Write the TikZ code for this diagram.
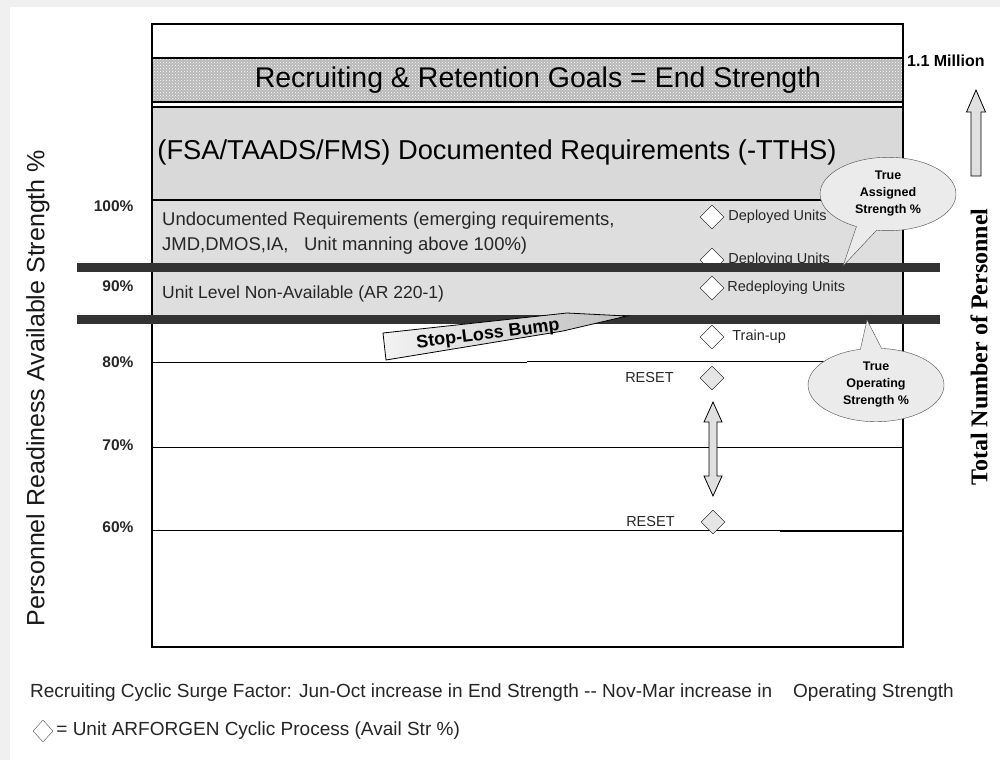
\documentclass[tikz,border=0pt]{standalone}
\usepackage{fontspec}
\setmainfont{Liberation Sans}
\newfontfamily\timesfont{Liberation Serif}
\usetikzlibrary{positioning}
\usetikzlibrary{shapes.geometric}
\usetikzlibrary{shapes.callouts}
\usetikzlibrary{patterns}

\begin{document}
\begin{tikzpicture}[x=1pt, y=-1pt,  node distance=4pt,  bandline/.style={    draw=black,    line width=1.6pt  },  bar/.style={    line width=9pt,    draw=black!80  },  level/.style={    line width=0.9pt  },  pct/.style={    anchor=east,    font=\bfseries\fontsize{15.5}{17}\selectfont,    text=black!85  },  unit/.style={    diamond,    draw,    fill=white,    minimum width=24pt,    minimum height=24pt,    inner sep=0pt  },  unitlabel/.style={    inner sep=0pt,    font=\fontsize{14.5}{16}\selectfont,    text=black!85  },  note/.style={    ellipse callout,    draw=black!70,    fill=black!8,    minimum width=136pt,    minimum height=62pt,    callout pointer arc=18,    align=center,    font=\bfseries\fontsize{12.5}{17}\selectfont  },  fatarrow/.style={    draw,    fill=black!12,    line width=0.8pt  }]
		\useasboundingbox (0,0) rectangle (1000,760);
		\fill[black!6] (0,0) rectangle (1000,760);
		\fill[white] (10,7) rectangle (1000,760);
		% Bands
		\fill[black!28] (152,58) rectangle (903,102);
		\fill[pattern=crosshatch dots, pattern color=white] (152,58) rectangle (903,102);
		\fill[black!15] (152,107) rectangle (903,200);
		\fill[black!13] (152,200) rectangle (903,319);
		\draw[bandline] (152,58) -- (903,58);
		\draw[bandline] (152,102) -- (903,102);
		\draw[bandline] (152,107) -- (903,107);
		\draw[bandline, line width=2.4pt] (152,200) -- (903,200);
		\draw[level] (152,362.5) -- (527,362.5);
		\draw[level, line width=1.4pt] (527,361.5) -- (903,361.5);
		\draw[level] (152,447) -- (903,447);
		\draw[level] (152,530) -- (780,530);
		\draw[level, line width=1.4pt] (780,531) -- (903,531);
		\draw[line width=1.4pt] (152,24) rectangle (903,647);
		% Band texts
		\node[font=\fontsize{28.5}{30}\selectfont] (goals) at (538,80) {Recruiting \& Retention Goals = End Strength};
		\node[font=\fontsize{27.3}{30}\selectfont] (docreq) at (497,152) {(FSA/TAADS/FMS) Documented Requirements (-TTHS)};
		\node[anchor=north west, align=left, inner sep=0pt, font=\fontsize{18.5}{24.5}\selectfont, text=black!85] (undoc) at (162,212) {Undocumented Requirements (emerging requirements,\\JMD,DMOS,IA,\ \ \ Unit manning above 100\%)};
		\node[anchor=west, inner sep=0pt, font=\fontsize{17.5}{20}\selectfont, text=black!85] (nonavail) at (162,294) {Unit Level Non-Available (AR 220-1)};
		% Percent labels
		\node[pct] (p100) at (137,206) {100\%};
		\node[pct] (p90) at (137,286) {90\%};
		\node[pct] (p80) at (137,362) {80\%};
		\node[pct] (p70) at (137,445) {70\%};
		\node[pct] (p60) at (137,527) {60\%};
		% Unit cycle
		\node[unit] (D1) at (712,217) {};
		\node[unit] (D2) at (712,260) {};
		\node[unit] (D3) at (712,288) {};
		\node[unit] (D4) at (712,337) {};
		\node[unit, fill=black!10] (D5) at (712,378) {};
		\node[unit, fill=black!10] (D6) at (713,522) {};
		\node[unitlabel, right=of D1] {Deployed Units};
		\node[unitlabel, right=of D2] {Deploying Units};
		\node[unitlabel, right=3pt of D3] {Redeploying Units};
		\node[unitlabel, right=8pt of D4] {Train-up};
		\node[unitlabel, left=26pt of D5] {RESET};
		\node[unitlabel, left=26pt of D6] {RESET};
		% Bars
		\draw[bar] (77,267.5) -- (940,267.5);
		\draw[bar] (77,319) -- (940,319);
		% Stop-loss
		\draw[line width=0.8pt, left color=black!5, right color=black!25] (383,333) -- (567,313) -- (627,316) -- (563,331) -- (386,360) -- cycle;
		\node[rotate=7, font=\bfseries\fontsize{18}{20}\selectfont] (stoploss) at (488,335) {Stop-Loss Bump};
		% Arrows
		\draw[fatarrow] (713,402) -- (722,422) -- (717,422) -- (717,476) -- (722,476) -- (713,496) -- (704,476) -- (709,476) -- (709,422) -- (704,422) -- cycle;
		\draw[fatarrow] (976,90) -- (985.5,112) -- (981,112) -- (981,176) -- (971,176) -- (971,112) -- (966.5,112) -- cycle;
		% Callouts
		\coordinate (tasTip) at (843,266);
		\coordinate (tosTip) at (867,320);
		\node[note, callout absolute pointer={(tasTip)}] (TAS) at (888,194) {True\\Assigned\\Strength \%};
		\node[note, callout absolute pointer={(tosTip)}] (TOS) at (876,385) {True\\Operating\\Strength \%};
		% Labels
		\node[anchor=west, inner sep=0pt, font=\bfseries\fontsize{16}{18}\selectfont] (million) at (907,61) {1.1 Million};
		\node[rotate=90, font=\fontsize{25}{28}\selectfont, text=black!90] (ytitle) at (38,388) {Personnel Readiness Available Strength \%};
		\node[rotate=90, font=\timesfont\bfseries\fontsize{24}{26}\selectfont] (total) at (979,347) {Total Number of Personnel};
		\node[anchor=west, inner sep=0pt, font=\fontsize{19}{21}\selectfont, text=black!85] (surge) at (30,693) {Recruiting Cyclic Surge Factor: Jun-Oct increase in End Strength -{}- Nov-Mar increase in\ \ \ \ Operating Strength};
		\node[unit, minimum width=20pt, minimum height=22pt, draw=black!70] (legend) at (43,731) {};
		\node[unitlabel, font=\fontsize{19}{21}\selectfont, right=3pt of legend] {= Unit ARFORGEN Cyclic Process (Avail Str \%)};
	\end{tikzpicture}
\end{document}
